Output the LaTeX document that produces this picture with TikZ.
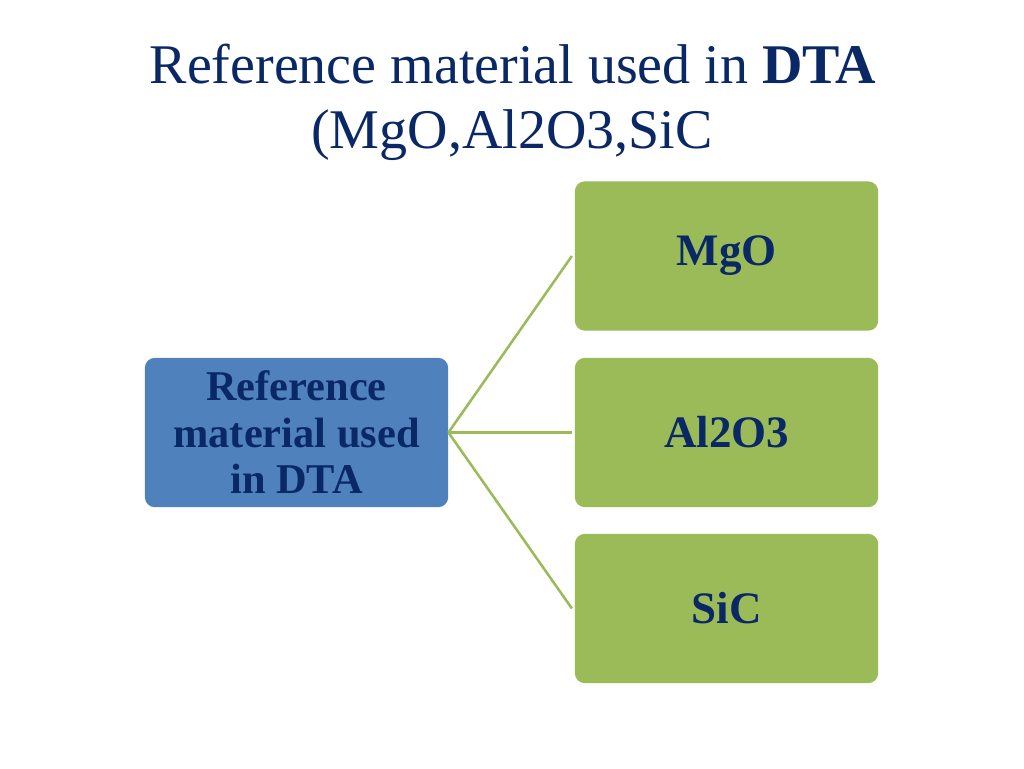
\documentclass[tikz,border=0pt]{standalone}
\usepackage{fontspec}
\setmainfont{Liberation Serif}
\definecolor{navy}{HTML}{0A2866}
\definecolor{boxblue}{HTML}{4F81BD}
\definecolor{boxgreen}{HTML}{9BBB59}
\tikzset{
  titletext/.style={text=navy, font=\fontsize{42}{48}\selectfont, inner sep=0pt, anchor=base},
  bluebox/.style={fill=boxblue, draw=none, rounded corners=7.5pt, minimum width=227.5pt, minimum height=112pt, align=center, text=navy, font=\bfseries\fontsize{31.8}{34.8}\selectfont, inner sep=0pt},
  greenbox/.style={fill=boxgreen, draw=none, rounded corners=7.5pt, minimum width=227.5pt, minimum height=112pt, align=center, text=navy, font=\bfseries\fontsize{33.75}{34.5}\selectfont, inner sep=0pt},
  link/.style={draw=boxgreen, line width=1.9pt}
}
\begin{document}
\begin{tikzpicture}[x=0.75pt,y=-0.75pt]
\useasboundingbox[fill=white] (0,0) rectangle (1024,768);
\node[titletext] (t1) at (513,83) {Reference material used in \textbf{DTA}};
\node[titletext] (t2) at (512,148) {(MgO,Al2O3,SiC};
\node[bluebox] (L) at (296.5,432.5) {Reference\\material used\\in DTA};
\node[greenbox] (A) at (726.5,256) {MgO};
\node[greenbox] (B) at (726.5,432.5) {Al2O3};
\node[greenbox] (C) at (726.5,608.5) {SiC};
\draw[link] (L.east) -- ([xshift=-2pt]A.west);
\draw[link] (L.east) -- ([xshift=-2pt]B.west);
\draw[link] (L.east) -- ([xshift=-2pt]C.west);
\end{tikzpicture}
\end{document}
